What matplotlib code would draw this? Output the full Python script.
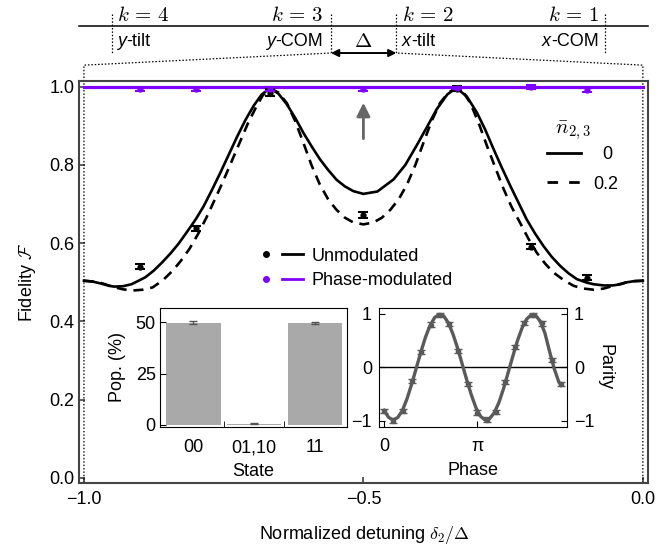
import numpy as np
import matplotlib
matplotlib.use("Agg")
import matplotlib.pyplot as plt
from matplotlib.lines import Line2D
from matplotlib.legend_handler import HandlerTuple

plt.rcParams["font.family"] = ["Liberation Sans", "DejaVu Sans"]
plt.rcParams["mathtext.fontset"] = "cm"
plt.rcParams["font.size"] = 13

# ---- main panel: theory curves ----
x_n0 = [-1.000, -0.985, -0.970, -0.955, -0.946, -0.930, -0.915, -0.905, -0.890, -0.875,
        -0.860, -0.845, -0.830, -0.815, -0.800, -0.786, -0.771, -0.756, -0.741, -0.726,
        -0.711, -0.696, -0.682, -0.667, -0.652, -0.637, -0.622, -0.607, -0.592, -0.578,
        -0.563, -0.548, -0.533, -0.518, -0.500, -0.475, -0.446, -0.425, -0.405, -0.387,
        -0.369, -0.350, -0.334, -0.315, -0.297, -0.282, -0.267, -0.252, -0.237, -0.222,
        -0.208, -0.193, -0.178, -0.163, -0.148, -0.133, -0.118, -0.100, -0.088, -0.070,
        -0.053, -0.040, -0.029, -0.015, 0.000]
f_n0 = [0.504, 0.502, 0.497, 0.491, 0.489, 0.490, 0.495, 0.502, 0.513, 0.530,
        0.551, 0.574, 0.600, 0.630, 0.661, 0.694, 0.736, 0.780, 0.826, 0.872,
        0.915, 0.952, 0.980, 0.996, 0.982, 0.955, 0.920, 0.881, 0.846, 0.815,
        0.787, 0.762, 0.745, 0.733, 0.726, 0.732, 0.763, 0.800, 0.849, 0.895,
        0.942, 0.980, 0.997, 0.975, 0.934, 0.890, 0.840, 0.792, 0.746, 0.702,
        0.661, 0.625, 0.593, 0.565, 0.542, 0.523, 0.508, 0.499, 0.495, 0.492,
        0.492, 0.495, 0.500, 0.503, 0.504]

x_n02 = [-1.000, -0.985, -0.971, -0.960, -0.947, -0.930, -0.913, -0.895, -0.877, -0.859,
         -0.841, -0.826, -0.811, -0.796, -0.781, -0.767, -0.752, -0.737, -0.722, -0.707,
         -0.692, -0.680, -0.667, -0.652, -0.637, -0.622, -0.607, -0.593, -0.578, -0.563,
         -0.548, -0.533, -0.518, -0.500, -0.482, -0.467, -0.452, -0.437, -0.422, -0.407,
         -0.393, -0.378, -0.363, -0.348, -0.334, -0.321, -0.309, -0.294, -0.279, -0.264,
         -0.249, -0.235, -0.220, -0.205, -0.190, -0.175, -0.160, -0.142, -0.124, -0.106,
         -0.088, -0.070, -0.053, -0.040, -0.029, -0.015, 0.000]
f_n02 = [0.504, 0.502, 0.499, 0.494, 0.488, 0.482, 0.479, 0.481, 0.487, 0.505,
         0.530, 0.556, 0.586, 0.623, 0.665, 0.708, 0.755, 0.805, 0.855, 0.905,
         0.948, 0.978, 0.996, 0.985, 0.958, 0.912, 0.855, 0.800, 0.750, 0.712,
         0.685, 0.665, 0.653, 0.648, 0.653, 0.665, 0.685, 0.712, 0.750, 0.800,
         0.855, 0.912, 0.958, 0.985, 0.996, 0.985, 0.959, 0.908, 0.849, 0.793,
         0.738, 0.693, 0.653, 0.612, 0.576, 0.548, 0.525, 0.506, 0.491, 0.484,
         0.481, 0.484, 0.491, 0.496, 0.500, 0.503, 0.504]

x_pm = [-1.0, 0.0]
f_pm = [1.0, 1.0]

# ---- main panel: measured points ----
x_meas = [-0.9, -0.8, -0.667, -0.5, -0.333, -0.2, -0.1]
f_unmod = [0.540, 0.638, 0.985, 0.672, 0.995, 0.591, 0.512]
e_unmod = [0.007, 0.007, 0.008, 0.008, 0.006, 0.007, 0.007]
f_phase = [0.993, 0.993, 0.994, 0.993, 0.997, 0.998, 0.992]
e_phase = [0.004, 0.004, 0.004, 0.004, 0.003, 0.005, 0.005]

# ---- inset 1: populations ----
states = ["00", "01,10", "11"]
pop = [49.8, 0.6, 49.7]
pop_err = [0.7, 0.3, 0.7]

# ---- inset 2: parity scan ----
phase = [0.00, 0.31, 0.63, 0.94, 1.26, 1.57, 1.88, 2.20, 2.51, 2.83,
         3.14, 3.46, 3.77, 4.08, 4.40, 4.71, 5.03, 5.34, 5.65, 5.97]
parity = [-0.82, -1.00, -0.82, -0.26, 0.28, 0.80, 0.98, 0.81, 0.30, -0.32,
          -0.85, -0.98, -0.84, -0.28, 0.38, 0.83, 0.98, 0.82, 0.14, -0.31]
parity_err = [0.04] * len(phase)
phase_fit = [0.00, 0.155, 0.31, 0.465, 0.62, 0.775, 0.93, 1.085, 1.24, 1.395,
             1.55, 1.705, 1.86, 2.015, 2.17, 2.325, 2.48, 2.635, 2.79, 2.945,
             3.10, 3.255, 3.41, 3.565, 3.72, 3.875, 4.03, 4.185, 4.34, 4.495,
             4.65, 4.805, 4.96, 5.115, 5.27, 5.425, 5.58, 5.735, 5.89, 5.97]
parity_fit = [-0.81, -0.94, -0.99, -0.94, -0.81, -0.59, -0.32, -0.02, 0.28, 0.56,
              0.78, 0.93, 0.99, 0.96, 0.83, 0.62, 0.36, 0.06, -0.24, -0.52,
              -0.76, -0.92, -0.99, -0.96, -0.85, -0.66, -0.40, -0.10, 0.20, 0.49,
              0.73, 0.90, 0.98, 0.97, 0.86, 0.64, 0.30, -0.02, -0.27, -0.34]

purple = "#7f00ff"
spine_col = "#444444"

fig = plt.figure(figsize=(6.59, 5.48), dpi=100)
ax = fig.add_axes([0.1206, 0.1186, 0.8634, 0.7336])

ax.plot(x_n0, f_n0, color="k", lw=1.9, zorder=3)
ax.plot(x_n02, f_n02, color="k", lw=1.9, ls=(0, (3.8, 2.6)), zorder=3)
ax.plot(x_pm, f_pm, color=purple, lw=2.3, zorder=4)
ax.errorbar(x_meas, f_unmod, yerr=e_unmod, fmt="o", ms=3.5, color="k",
            elinewidth=1.5, capsize=3.5, capthick=1.5, zorder=5)
ax.errorbar(x_meas, f_phase, yerr=e_phase, fmt="o", ms=3.5, color=purple,
            elinewidth=1.5, capsize=3.5, capthick=1.5, zorder=6)

ax.set_xlim(-1.008, 0.01)
ax.set_ylim(-0.013, 1.0145)
ax.set_xticks([-1.0, -0.5, 0.0])
ax.set_yticks([0.0, 0.2, 0.4, 0.6, 0.8, 1.0])
ax.tick_params(direction="in", length=4, width=1.2, color=spine_col, labelsize=13)
ax.tick_params(axis="x", pad=6)
for s in ax.spines.values():
    s.set_color(spine_col)
    s.set_linewidth(1.5)
ax.set_xlabel("Normalized detuning $\\delta_2/\\Delta$", fontsize=13, labelpad=11)
ax.set_ylabel("Fidelity $\\mathcal{F}$", fontsize=13, labelpad=8)

# gray arrow pointing at the phase-modulated point
ax.annotate("", xy=(-0.5, 0.966), xytext=(-0.5, 0.86),
            arrowprops=dict(arrowstyle="-|>", color="#666666", lw=2, mutation_scale=20))

# legends
h_un = (Line2D([], [], marker="o", ls="none", color="k", ms=4),
        Line2D([], [], color="k", lw=2))
h_pm = (Line2D([], [], marker="o", ls="none", color=purple, ms=4),
        Line2D([], [], color=purple, lw=2))
leg1 = ax.legend([h_un, h_pm], ["Unmodulated", "Phase-modulated"],
                 handler_map={tuple: HandlerTuple(ndivide=None, pad=0.3)},
                 loc="center left", bbox_to_anchor=(0.31, 0.534), frameon=False,
                 fontsize=13, handlelength=2.6, handletextpad=0.5, labelspacing=0.4,
                 borderaxespad=0, borderpad=0)
ax.add_artist(leg1)
h0 = Line2D([], [], color="k", lw=2)
h2 = Line2D([], [], color="k", lw=2, ls=(0, (3.8, 4)))
leg2 = ax.legend([h0, h2], ["  0", "0.2"],
                 loc="upper left", bbox_to_anchor=(0.822, 0.838), frameon=False,
                 fontsize=13, handlelength=1.85, handletextpad=0.7,
                 labelspacing=0.7, borderaxespad=0, borderpad=0)
ax.text(-0.125, 0.886, "$\\bar{n}_{2,3}$", ha="center", va="center", fontsize=15)

# ---- header above the panel ----
y_k, y_line, y_lab = 1.181, 1.155, 1.115
y_sep_top, y_sep_bot, y_corner = 1.187, 1.086, 1.055
seps = [-0.950, -0.558, -0.441, -0.068]
dot = dict(color="k", lw=0.9, ls=(0, (1.2, 1.5)), clip_on=False)

ax.plot([-1.008, 0.01], [y_line, y_line], color="k", lw=1.1, clip_on=False)
for xs in seps:
    ax.plot([xs, xs], [y_sep_top, y_sep_bot], **dot)
ax.plot([-1.0, -1.0, seps[1]], [-0.013, y_corner, y_sep_bot], **dot)
ax.plot([0.0, 0.0, seps[2]], [-0.013, y_corner, y_sep_bot], **dot)
ax.annotate("", xy=(seps[1], y_sep_bot), xytext=(seps[2], y_sep_bot),
            arrowprops=dict(arrowstyle="<|-|>", color="k", lw=1.4,
                            mutation_scale=11, shrinkA=0, shrinkB=0),
            annotation_clip=False)
ax.text(-0.5, y_lab, "$\\Delta$", ha="center", va="center", fontsize=15)

k_text = [("$k\\,=\\,4$", -0.94, "left"), ("$k\\,=\\,3$", -0.572, "right"),
          ("$k\\,=\\,2$", -0.431, "left"), ("$k\\,=\\,1$", -0.079, "right")]
for txt, xk, ha in k_text:
    ax.text(xk, y_k, txt, ha=ha, va="center", fontsize=15, clip_on=False)

modes = [("y", "-tilt", -0.94, "left"), ("y", "-COM", -0.572, "right"),
         ("x", "-tilt", -0.431, "left"), ("x", "-COM", -0.079, "right")]
for ital, rest, xm, ha in modes:
    if ha == "left":
        t = ax.text(xm, y_lab, ital, style="italic", ha="left", va="center", fontsize=13)
        ax.annotate(rest, xy=(1, 0.5), xycoords=t, ha="left", va="center", fontsize=13)
    else:
        t = ax.text(xm, y_lab, rest, ha="right", va="center", fontsize=13)
        ax.annotate(ital, xy=(0, 0.5), xycoords=t, ha="right", va="center",
                    style="italic", fontsize=13)

# ---- inset 1: population bars ----
ax1 = fig.add_axes([160 / 659, 121 / 548, 187 / 659, 119 / 548])
ax1.bar(range(len(states)), pop, width=0.9, color="#a9a9a9", yerr=pop_err,
        capsize=3, error_kw=dict(ecolor="#555555", elinewidth=1, capthick=1))
ax1.set_xlim(-0.55, 2.53)
ax1.set_ylim(-1, 57)
ax1.set_yticks([0, 25, 50])
ax1.set_xticks(range(len(states)))
ax1.set_xticklabels(states)
ax1.set_xticks([0.5, 1.5], minor=True)
ax1.tick_params(axis="x", which="major", length=0, labelsize=13, pad=9)
ax1.tick_params(axis="x", which="minor", direction="in", length=4)
ax1.tick_params(axis="y", direction="in", length=4, labelsize=13, pad=3)
ax1.set_ylabel("Pop. (%)", fontsize=13, labelpad=7)
ax1.set_xlabel("State", fontsize=13, labelpad=5)

# ---- inset 2: parity ----
gray = "#5a5a5a"
ax2 = fig.add_axes([379 / 659, 121 / 548, 188 / 659, 119 / 548])
ax2.axhline(0, color="k", lw=1)
ax2.plot(phase_fit, parity_fit, color=gray, lw=2.4)
ax2.errorbar(phase, parity, yerr=parity_err, fmt="o", ms=3, color=gray,
             elinewidth=1, capsize=3, capthick=1)
ax2.set_xlim(-0.17, 6.17)
ax2.set_ylim(-1.12, 1.11)
ax2.set_yticks([-1, 0, 1])
ax2.set_xticks([0, np.pi])
ax2.set_xticklabels(["0", "π"])
ax2.tick_params(direction="in", length=4, labelsize=13, left=True, right=True,
                labelleft=True, labelright=True, pad=5)
ax2.tick_params(axis="x", pad=8)
ax2.yaxis.set_label_position("right")
ax2.set_ylabel("Parity", rotation=270, fontsize=13, labelpad=14)
ax2.set_xlabel("Phase", fontsize=13, labelpad=5)

fig.savefig("out.png", dpi=100)
